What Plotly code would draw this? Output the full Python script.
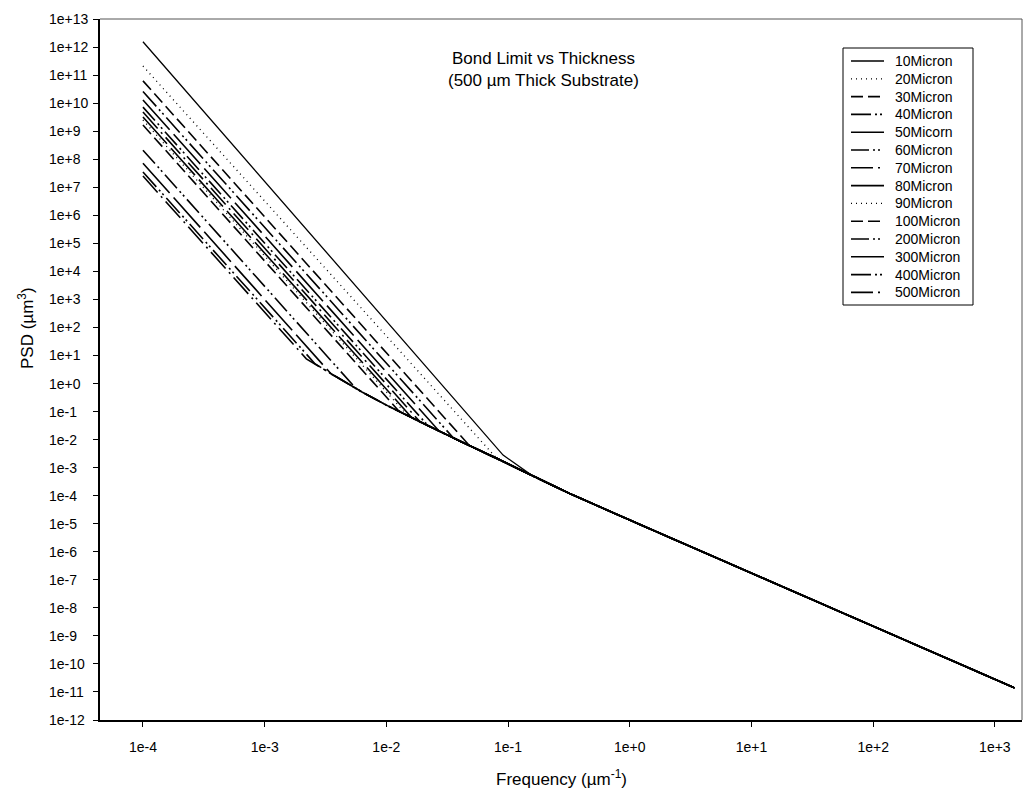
import plotly.graph_objects as go

# ---- data -------------------------------------------------------------
series_names = ["10Micron", "20Micron", "30Micron", "40Micron", "50Micorn",
                "60Micron", "70Micron", "80Micron", "90Micron", "100Micron",
                "200Micron", "300Micron", "400Micron", "500Micron"]

start_freq = 1e-4
# PSD of each curve at the lowest frequency
start_psd = [1.55e12, 2.1e11, 6.2e10, 2.6e10, 1.3e10, 7.2e9, 4.8e9,
             3.2e9, 2.5e9, 1.66e9, 2.1e8, 7.2e7, 3.5e7, 2.5e7]
# point where each curve leaves its steep branch and joins the bond limit
knee_freq = [0.091, 0.081, 0.048, 0.035, 0.0272, 0.0219, 0.019,
             0.0162, 0.0148, 0.0126, 5.6e-3, 3.55e-3, 2.6e-3, 2.2e-3]
knee_psd = [2.8e-3, 2.1e-3, 6.2e-3, 1.23e-2, 2.0e-2, 3.2e-2, 4.2e-2,
            6.0e-2, 7.5e-2, 0.107, 0.68, 2.1, 5.0, 7.6]
# common bond-limit curve
bond_freq = [2.2e-3, 4.0e-3, 6.3e-3, 1.0e-2, 2.0e-2, 4.0e-2, 8.0e-2,
             0.16, 0.32, 1.0, 10.0, 100.0, 1450.0]
bond_psd = [7.4, 1.6, 0.50, 0.17, 0.038, 8.9e-3, 2.2e-3,
            5.0e-4, 1.2e-4, 1.35e-5, 1.7e-7, 2.2e-9, 1.4e-11]

x_tick_vals = [1e-4, 1e-3, 1e-2, 1e-1, 1e0, 1e1, 1e2, 1e3]
x_tick_text = ["1e-4", "1e-3", "1e-2", "1e-1", "1e+0", "1e+1", "1e+2", "1e+3"]
y_tick_exps = list(range(13, -13, -1))
y_tick_text = ["1e+13", "1e+12", "1e+11", "1e+10", "1e+9", "1e+8", "1e+7",
               "1e+6", "1e+5", "1e+4", "1e+3", "1e+2", "1e+1", "1e+0",
               "1e-1", "1e-2", "1e-3", "1e-4", "1e-5", "1e-6", "1e-7",
               "1e-8", "1e-9", "1e-10", "1e-11", "1e-12"]

# ---- styles -----------------------------------------------------------
dashes = ["solid", "1px,4px", "12px,5px", "20px,4px,2px,3px,2px,4px",
          "40px,6px", "18px,4px,2px,3px,2px,4px", "22px,5px,2px,5px",
          "36px,6px", "1px,4px", "12px,5px", "18px,4px,2px,3px,2px,4px",
          "40px,6px", "20px,4px,2px,3px,2px,4px", "22px,5px,2px,5px"]
widths = [1.3, 1.3, 1.6, 1.6, 1.6, 1.6, 1.6, 1.6, 1.3, 1.6, 1.6, 1.6, 1.6, 1.6]

FONT = "Arial, Liberation Sans, Helvetica, sans-serif"

# page / plot-area geometry in pixels
W, H = 1025, 791
PLOT_L, PLOT_R, PLOT_T, PLOT_B = 100, 1022, 19, 720


def px_x(px):
    return (px - PLOT_L) / (PLOT_R - PLOT_L)


def px_y(py):
    return (PLOT_B - py) / (PLOT_B - PLOT_T)


fig = go.Figure()
for i, name in enumerate(series_names):
    xs = [start_freq, knee_freq[i]]
    ys = [start_psd[i], knee_psd[i]]
    for f, p in zip(bond_freq, bond_psd):
        if f > knee_freq[i] * 1.01:
            xs.append(f)
            ys.append(p)
    fig.add_trace(go.Scatter(
        x=xs, y=ys, mode="lines", name=name, showlegend=False,
        line=dict(color="black", width=widths[i], dash=dashes[i]),
    ))

annotations = []
shapes = []

# left-aligned y tick labels
for e, t in zip(y_tick_exps, y_tick_text):
    annotations.append(dict(
        x=px_x(47), xref="paper", y=e, yref="y", text=t, showarrow=False,
        xanchor="left", yanchor="middle",
        font=dict(size=14, color="black", family=FONT)))

annotations.append(dict(
    x=px_x(543), y=px_y(69), xref="paper", yref="paper", showarrow=False,
    text="Bond Limit vs Thickness<br>(500 µm Thick Substrate)",
    xanchor="center", yanchor="middle", align="center",
    font=dict(size=17, color="black", family=FONT)))
annotations.append(dict(
    x=0.5, y=px_y(778), xref="paper", yref="paper", showarrow=False,
    text="Frequency (µm<sup>-1</sup>)", xanchor="center", yanchor="middle",
    font=dict(size=17, color="black", family=FONT)))
annotations.append(dict(
    x=px_x(26), y=px_y(328), xref="paper", yref="paper", showarrow=False,
    text="PSD (µm<sup>3</sup>)", textangle=-90, xanchor="center", yanchor="middle",
    font=dict(size=17, color="black", family=FONT)))

# legend box with one sample line and label per series
LEG_L, LEG_R, LEG_T, LEG_B = 843, 973, 48, 305
ROW0, ROW_STEP = 61, 17.8
SAMPLE_X0, SAMPLE_X1, TEXT_X = 851, 884, 893
shapes.append(dict(type="rect", xref="paper", yref="paper",
                   x0=px_x(LEG_L), x1=px_x(LEG_R), y0=px_y(LEG_B), y1=px_y(LEG_T),
                   line=dict(color="black", width=1), fillcolor="white", layer="above"))
for i, name in enumerate(series_names):
    yy = px_y(ROW0 + i * ROW_STEP)
    shapes.append(dict(type="line", xref="paper", yref="paper",
                       x0=px_x(SAMPLE_X0), x1=px_x(SAMPLE_X1), y0=yy, y1=yy,
                       line=dict(color="black", width=widths[i], dash=dashes[i]),
                       layer="above"))
    annotations.append(dict(
        x=px_x(TEXT_X), y=yy, xref="paper", yref="paper", text=name,
        showarrow=False, xanchor="left", yanchor="middle",
        font=dict(size=14, color="black", family=FONT)))

# thin top and right frame lines
shapes.append(dict(type="line", xref="paper", yref="paper", x0=0, x1=1, y0=1, y1=1,
                   line=dict(color="#555", width=1)))
shapes.append(dict(type="line", xref="paper", yref="paper", x0=1, x1=1, y0=0, y1=1,
                   line=dict(color="#555", width=1)))

fig.update_layout(
    width=W, height=H,
    margin=dict(l=PLOT_L, r=W - PLOT_R, t=PLOT_T, b=H - PLOT_B),
    paper_bgcolor="white", plot_bgcolor="white",
    font=dict(family=FONT, color="black", size=14),
    showlegend=False,
    annotations=annotations,
    shapes=shapes,
)
fig.update_xaxes(
    type="log", range=[-4.353, 3.223], showgrid=False, zeroline=False,
    showline=True, linecolor="black", linewidth=1.5,
    ticks="outside", ticklen=5, tickwidth=1.2, tickcolor="black",
    tickvals=x_tick_vals, ticktext=x_tick_text, ticklabelstandoff=8,
    tickfont=dict(size=14, family=FONT, color="black"),
)
fig.update_yaxes(
    type="log", range=[-12, 13], showgrid=False, zeroline=False,
    showline=True, linecolor="black", linewidth=1.5,
    ticks="outside", ticklen=5, tickwidth=1.2, tickcolor="black",
    tickvals=[10.0 ** e for e in y_tick_exps], showticklabels=False,
)

fig.write_html("out.html")
